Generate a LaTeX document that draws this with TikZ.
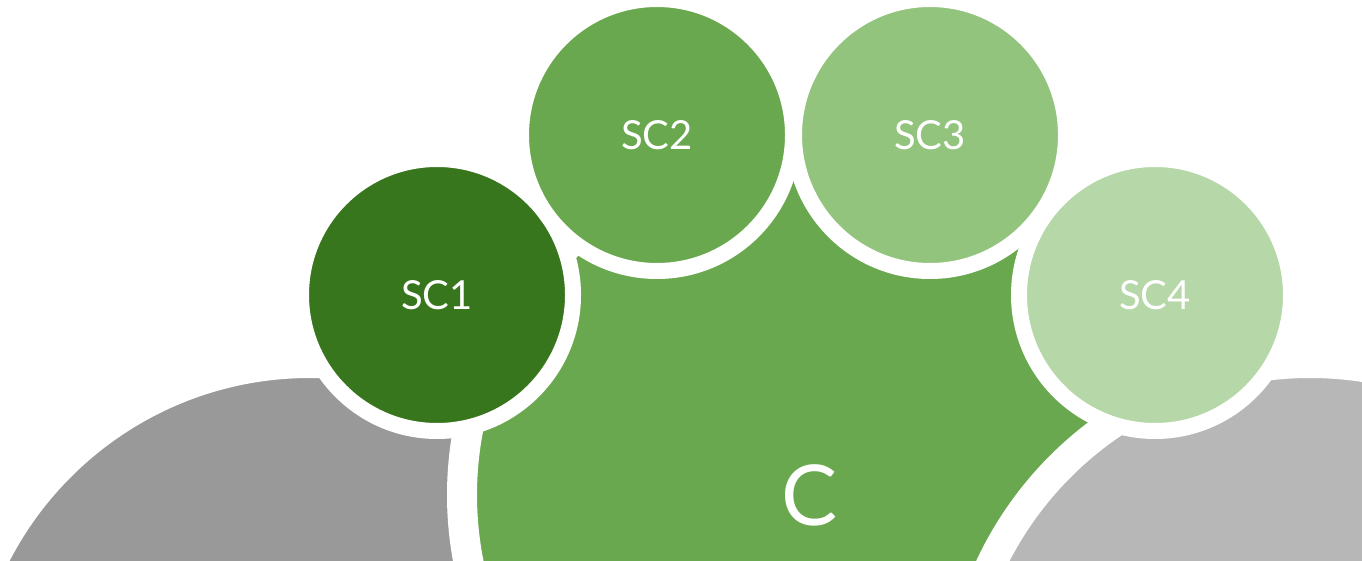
\documentclass[tikz,border=0pt]{standalone}
\usepackage{fontspec}
\setmainfont{Lato}
\definecolor{greyA}{HTML}{999999}
\definecolor{greyB}{HTML}{B7B7B7}
\definecolor{greenC}{HTML}{6AA84F}
\definecolor{sub1}{HTML}{38761D}
\definecolor{sub2}{HTML}{6AA84F}
\definecolor{sub3}{HTML}{93C47D}
\definecolor{sub4}{HTML}{B6D7A8}

\begin{document}
\begin{tikzpicture}[x=1pt,y=-1pt,
  bigdisc/.style={circle,inner sep=0pt,draw=white,line width=30pt,minimum size=706pt,text=white},
  smalldisc/.style={circle,inner sep=0pt,draw=white,line width=16pt,minimum size=272pt,text=white,
    font=\fontsize{40}{48}\selectfont}]
	% page frame, in pixels
	\useasboundingbox (0,0) rectangle (1362,561);
	\clip (0,0) rectangle (1362,561);
	% grey circles and the core circle
	\node[bigdisc,fill=greyA] (leftgrey) at (310,716) {};
	\node[bigdisc,fill=greenC,minimum size=696pt,font=\fontsize{84}{92}\selectfont] (core) at (810,495) {C};
	\node[bigdisc,fill=greyB] (rightgrey) at (1310,716) {};
	% sub circles
	\foreach \x/\y/\col/\name in {437/295/sub1/SC1,
		657/135/sub2/SC2,
		930/135/sub3/SC3,
		1155/295/sub4/SC4}
	{\node[smalldisc,fill=\col] (\name) at (\x,\y) {\name};}
\end{tikzpicture}
\end{document}
